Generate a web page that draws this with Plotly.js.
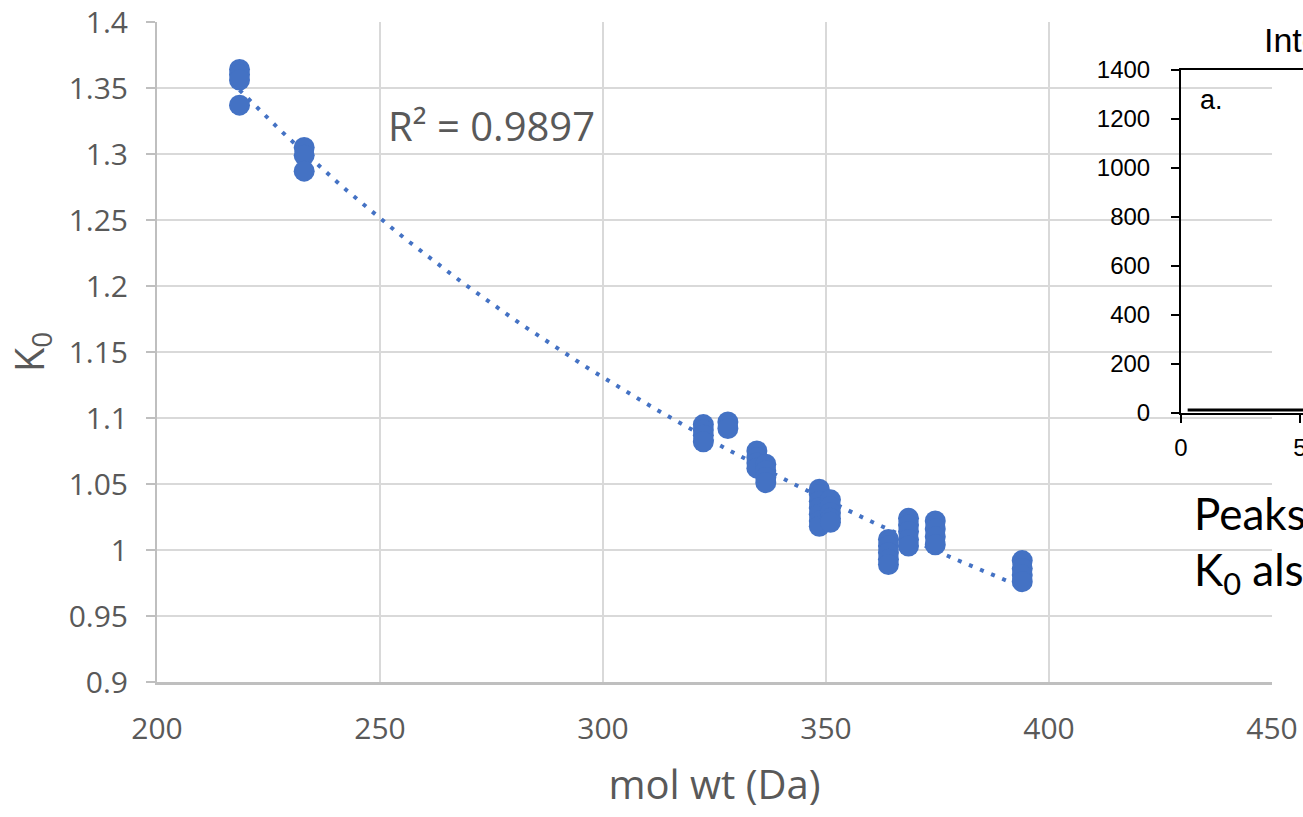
<!DOCTYPE html>
<html>
<head>
<meta charset="utf-8">
<script src="https://cdn.plot.ly/plotly-3.0.1.min.js"></script>
<style>
html,body{margin:0;padding:0;background:#fff;overflow:hidden;}
#chart{width:1303px;height:817px;}
</style>
</head>
<body>
<div id="chart"></div>
<script>
// ---- Main series: K0 vs molecular weight ----
const molWt = [
  218.5, 218.5, 218.5, 218.5,
  233, 233, 233,
  322.5, 322.5, 322.5, 322.5,
  328, 328,
  334.5, 334.5, 334.5, 334.5,
  336.5, 336.5, 336.5, 336.5,
  348.5, 348.5, 348.5, 348.5, 348.5, 348.5, 348.5,
  351, 351, 351, 351, 351,
  364, 364, 364, 364, 364,
  368.5, 368.5, 368.5, 368.5, 368.5,
  374.5, 374.5, 374.5, 374.5,
  394, 394, 394, 394
];
const k0 = [
  1.364, 1.360, 1.356, 1.337,
  1.305, 1.299, 1.287,
  1.095, 1.091, 1.087, 1.082,
  1.097, 1.092,
  1.075, 1.070, 1.066, 1.062,
  1.065, 1.060, 1.055, 1.051,
  1.046, 1.042, 1.037, 1.032, 1.027, 1.022, 1.018,
  1.038, 1.033, 1.028, 1.024, 1.021,
  1.008, 1.003, 0.998, 0.993, 0.989,
  1.024, 1.019, 1.014, 1.008, 1.003,
  1.022, 1.016, 1.010, 1.004,
  0.992, 0.986, 0.981, 0.976
];
const r2Label = 'R² = 0.9897';

// Axis ticks
const xTickVals = [200, 250, 300, 350, 400, 450];
const xTickText = ['200', '250', '300', '350', '400', '450'];
const yTickVals = [0.9, 0.95, 1, 1.05, 1.1, 1.15, 1.2, 1.25, 1.3, 1.35, 1.4];
const yTickText = ['0.9', '0.95', '1', '1.05', '1.1', '1.15', '1.2', '1.25', '1.3', '1.35', '1.4'];

// ---- Overlapping inset panel (partially visible) ----
const insetX = [0.28, 1, 2, 3, 4, 5.13];
const insetY = [12, 12, 12, 12, 12, 12];
const insetXTicks = [0, 5];
const insetXTickText = ['0', '5'];
const insetYTicks = [0, 200, 400, 600, 800, 1000, 1200, 1400];
const insetTitle = 'Intensity';
const insetLabel = 'a.';
const sideText1 = 'Peaks';
const sideText2 = 'K<sub>0</sub> also';

// Power trendline (least squares in log-log space, as the spreadsheet does)
function powerFit(xs, ys) {
  const n = xs.length;
  let sx = 0, sy = 0, sxx = 0, sxy = 0;
  for (let i = 0; i < n; i++) {
    const lx = Math.log(xs[i]), ly = Math.log(ys[i]);
    sx += lx; sy += ly; sxx += lx * lx; sxy += lx * ly;
  }
  const b = (n * sxy - sx * sy) / (n * sxx - sx * sx);
  const a = Math.exp((sy - b * sx) / n);
  return {a, b};
}
const fit = powerFit(molWt, k0);
const xMin = Math.min(...molWt), xMax = Math.max(...molWt);
const trendX = [], trendY = [];
for (let i = 0; i <= 80; i++) {
  const x = xMin + (xMax - xMin) * i / 80;
  trendX.push(x);
  trendY.push(fit.a * Math.pow(x, fit.b));
}

const W = 1303, H = 817;
const px = v => v / W;
const py = v => (H - v) / H;

const blue = '#4472C4';
const gray = '#595959';

const traces = [
  {
    x: trendX, y: trendY, xaxis: 'x', yaxis: 'y',
    mode: 'lines', type: 'scatter', hoverinfo: 'skip',
    line: {color: blue, width: 4, dash: '4px,8px'},
    showlegend: false
  },
  {
    x: molWt, y: k0, xaxis: 'x', yaxis: 'y',
    mode: 'markers', type: 'scatter',
    marker: {color: blue, size: 21, line: {width: 0}},
    showlegend: false
  },
  {
    x: insetX, y: insetY, xaxis: 'x2', yaxis: 'y2',
    mode: 'lines', type: 'scatter',
    line: {color: '#000000', width: 3},
    showlegend: false
  }
];

const layout = {
  width: W, height: H,
  margin: {l: 0, r: 0, t: 0, b: 0, pad: 0},
  paper_bgcolor: '#ffffff',
  plot_bgcolor: 'rgba(0,0,0,0)',
  showlegend: false,
  xaxis: {
    domain: [px(157), px(1272)],
    range: [200, 450],
    anchor: 'y',
    tickvals: xTickVals, ticktext: xTickText,
    ticks: '',
    ticklabelstandoff: 18,
    tickfont: {family: 'Open Sans', size: 30, color: gray},
    showgrid: true, gridcolor: '#d9d9d9', gridwidth: 2,
    showline: true, linecolor: '#bfbfbf', linewidth: 3,
    zeroline: false,
    title: {text: 'mol wt (Da)', font: {family: 'Open Sans', size: 40, color: gray}, standoff: 24}
  },
  yaxis: {
    domain: [py(682), py(22)],
    range: [0.9, 1.4],
    anchor: 'x',
    tickvals: yTickVals, ticktext: yTickText,
    ticks: 'outside', ticklen: 9, tickwidth: 2, tickcolor: '#bfbfbf',
    ticklabelstandoff: 12,
    tickfont: {family: 'Open Sans', size: 30, color: gray},
    showgrid: true, gridcolor: '#d9d9d9', gridwidth: 2,
    showline: true, linecolor: '#bfbfbf', linewidth: 2,
    zeroline: false,
    title: {text: 'K<sub>0</sub>', font: {family: 'Open Sans', size: 40, color: gray}, standoff: 12}
  },
  xaxis2: {
    domain: [px(1181), 1],
    range: [0, 5.126],
    anchor: 'y2',
    tickvals: insetXTicks, ticktext: insetXTickText,
    ticks: 'outside', ticklen: 8, tickwidth: 2, tickcolor: '#000',
    ticklabelstandoff: 4,
    ticklabeloverflow: 'allow',
    tickfont: {family: 'Liberation Sans', size: 24, color: '#000'},
    showgrid: false, zeroline: false,
    showline: true, mirror: true, linecolor: '#000', linewidth: 2
  },
  yaxis2: {
    domain: [py(413), py(70)],
    range: [0, 1400],
    anchor: 'x2',
    tickvals: insetYTicks,
    ticks: 'outside', ticklen: 8, tickwidth: 2, tickcolor: '#000',
    ticklabelstandoff: 16,
    tickfont: {family: 'Liberation Sans', size: 24, color: '#000'},
    showgrid: false, zeroline: false,
    showline: true, linecolor: '#000', linewidth: 2
  },
  annotations: [
    {
      text: r2Label, xref: 'x', yref: 'y', x: 251.4, y: 1.3215,
      xanchor: 'left', yanchor: 'middle', showarrow: false,
      font: {family: 'Open Sans', size: 40, color: gray}
    },
    {
      text: insetLabel, xref: 'paper', yref: 'paper', x: px(1198), y: py(100),
      xanchor: 'left', yanchor: 'middle', showarrow: false,
      font: {family: 'Liberation Sans', size: 27, color: '#000'}
    },
    {
      text: insetTitle, xref: 'paper', yref: 'paper', x: px(1262), y: py(40),
      xanchor: 'left', yanchor: 'middle', showarrow: false,
      font: {family: 'Liberation Sans', size: 34, color: '#000'}
    },
    {
      text: sideText1, xref: 'paper', yref: 'paper', x: px(1192), y: py(513),
      xanchor: 'left', yanchor: 'middle', showarrow: false,
      font: {family: 'Lato', size: 44, color: '#000'}
    },
    {
      text: sideText2, xref: 'paper', yref: 'paper', x: px(1192), y: py(572),
      xanchor: 'left', yanchor: 'middle', showarrow: false,
      font: {family: 'Lato', size: 44, color: '#000'}
    }
  ]
};

Plotly.newPlot('chart', traces, layout, {displayModeBar: false, staticPlot: true});
</script>
</body>
</html>
